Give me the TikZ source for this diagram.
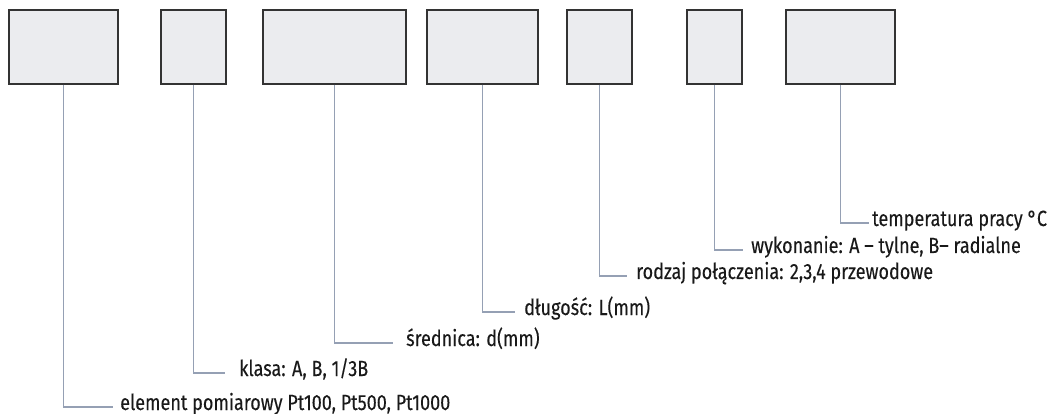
\documentclass[tikz,border=0pt]{standalone}
\usepackage{fontspec}
\setmainfont[FakeStretch=0.82, FakeBold=0.2]{Fira Sans}
\usepackage{tikz}
\definecolor{fieldfill}{HTML}{EBECEF}
\definecolor{fieldline}{HTML}{333333}
\definecolor{leadline}{HTML}{95A0B4}

\begin{document}
\begin{tikzpicture}[x=1pt, y=-1pt,
                field/.style={rectangle, draw=fieldline, fill=fieldfill, line width=1.4pt, minimum height=74pt, inner sep=0pt}, % empty code field
                lead/.style={draw=leadline, line width=1.7pt}, % leader from field to description
                desc/.style={anchor=base west, inner sep=0pt, text=black!90, font=\fontsize{22}{22}\selectfont} % description text
                ]
                \useasboundingbox (0,0) rectangle (1055,414);
                % code fields
                \node[field, minimum width=109pt] (pole1) at (63.5,47) {};
                \node[field, minimum width=65pt] (pole2) at (193.5,47) {};
                \node[field, minimum width=143pt] (pole3) at (334.5,47) {};
                \node[field, minimum width=111pt] (pole4) at (482.5,47) {};
                \node[field, minimum width=65pt] (pole5) at (599.5,47) {};
                \node[field, minimum width=55pt] (pole6) at (714.5,47) {};
                \node[field, minimum width=109pt] (pole7) at (840.5,47) {};
                % line ends
                \coordinate (koniec1) at (113,407);
                \coordinate (koniec2) at (225,373);
                \coordinate (koniec3) at (393,343);
                \coordinate (koniec4) at (515,312);
                \coordinate (koniec5) at (627,276);
                \coordinate (koniec6) at (743,250);
                \coordinate (koniec7) at (869,223);
                % descriptions
                \node[desc] (opis1) at (120,410) {element pomiarowy Pt100, Pt500, Pt1000};
                \node[desc] (opis2) at (239,376) {klasa: A, B, 1/3B};
                \node[desc] (opis3) at (406,346) {średnica: d(mm)};
                \node[desc] (opis4) at (524,315) {długość: L(mm)};
                \node[desc] (opis5) at (636,279) {rodzaj połączenia: 2,3,4 przewodowe};
                \node[desc] (opis6) at (751,253) {wykonanie: A – tylne, B– radialne};
                \node[desc] (opis7) at (872,226) {temperatura pracy °C};
                % leaders
                \draw[lead] (pole1.south) |- (koniec1);
                \draw[lead] (pole2.south) |- (koniec2);
                \draw[lead] (pole3.south) |- (koniec3);
                \draw[lead] (pole4.south) |- (koniec4);
                \draw[lead] (pole5.south) |- (koniec5);
                \draw[lead] (pole6.south) |- (koniec6);
                \draw[lead] (pole7.south) |- (koniec7);
            \end{tikzpicture}
\end{document}
